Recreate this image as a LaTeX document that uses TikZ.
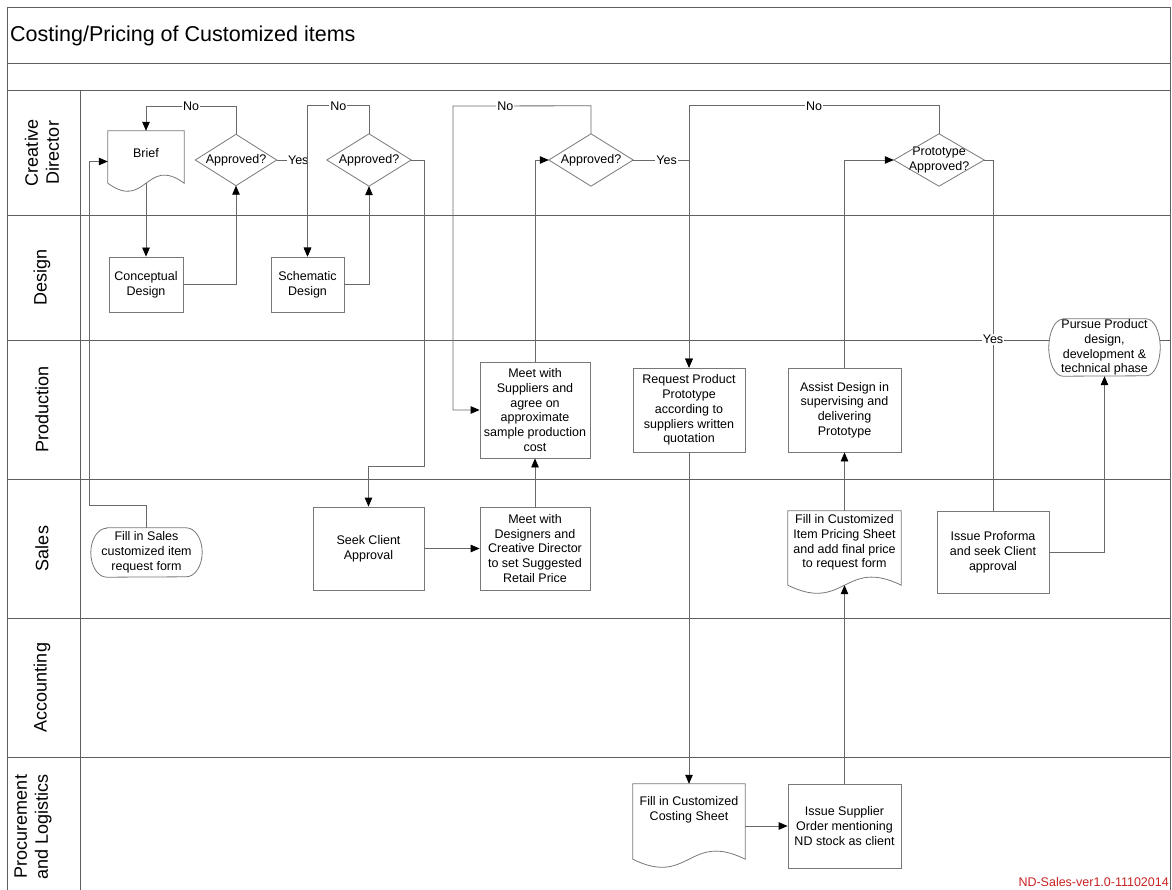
\documentclass[tikz,border=0pt]{standalone}
\usepackage{fontspec}
\setmainfont{Liberation Sans}
\usetikzlibrary{arrows.meta,calc}
\definecolor{ndred}{RGB}{200,35,35}
\definecolor{laneline}{RGB}{95,95,95}
\definecolor{shapeline}{RGB}{120,120,120}
\definecolor{connline}{RGB}{105,105,105}
\newcommand\nodefont{\fontsize{12.5}{14.8}\selectfont}
\newcommand\lanefont{\fontsize{18}{21}\selectfont}
\tikzset{
  lane/.style={draw=laneline, line width=0.9pt},
  conn/.style={draw=connline, line width=0.8pt},
  arr/.style={conn, -{Triangle[length=9pt,width=7.5pt,color=black]}},
  box/.style={draw=shapeline, fill=white, line width=0.8pt, align=center, font=\nodefont, inner sep=0pt},
  ghost/.style={inner sep=0pt, draw=none, align=center, font=\nodefont},
  txt/.style={align=center, font=\nodefont, inner sep=0pt},
  lbl/.style={fill=white, font=\nodefont, inner sep=1pt},
  lanelabel/.style={rotate=90, align=center, font=\lanefont, inner sep=0pt},
  shp/.style={draw=shapeline, line width=0.8pt}
}
\begin{document}
\begin{tikzpicture}[x=1pt,y=-1pt]
\useasboundingbox (0,0) rectangle (1172,890);
% frame and lanes
\draw[lane] (7,890) -- (7,7) -- (1170,7) -- (1170,890);
\foreach \yy in {63,90,215,340,479,618,757} {\draw[lane] (7,\yy) -- (1170,\yy);}
\draw[lane] (80,90) -- (80,890);
\node[anchor=west, inner sep=0pt, font=\fontsize{21.5}{24}\selectfont] (title) at (10,36) {Costing/Pricing of Customized items};
\node[lanelabel] (lcd) at (42,152.5) {Creative\\Director};
\node[lanelabel] (ldes) at (42,277.5) {Design};
\node[lanelabel] (lprod) at (42,409.5) {Production};
\node[lanelabel] (lsales) at (42,548.5) {Sales};
\node[lanelabel] (lacc) at (42,687.5) {Accounting};
\node[lanelabel] (lproc) at (33,826.5) {Procurement\\and Logistics};
\node[anchor=east, inner sep=0pt, text=ndred, font=\nodefont] (ver) at (1169,882) {ND-Sales-ver1.0-11102014};

% diamonds
\node[ghost, minimum width=81pt, minimum height=51pt] (d1) at (236,160) {Approved?};
\node[ghost, minimum width=84pt, minimum height=52pt] (d2) at (369,160) {Approved?};
\node[ghost, minimum width=84pt, minimum height=52pt] (d3) at (591,160) {Approved?};
\node[ghost, minimum width=90pt, minimum height=52pt] (d4) at (939,160) {Prototype\\Approved?};
\foreach \d in {d1,d2,d3,d4} {\draw[shp] (\d.north) -- (\d.east) -- (\d.south) -- (\d.west) -- cycle;}

% documents
\node[ghost, minimum width=76pt, minimum height=61pt] (brief) at (146,161.5) {};
\node[ghost, minimum width=113pt, minimum height=83pt] (pricing) at (844.5,552.5) {};
\node[ghost, minimum width=112pt, minimum height=84pt] (cost) at (689,826) {};
\foreach \d in {brief,pricing,cost} {
  \draw[shp, fill=white] (\d.north west) -- (\d.north east) -- ($(\d.south east)+(0,-9)$)
    .. controls ($(\d.south)+(0,-37)$) and ($(\d.south)+(0,19)$) .. ($(\d.south west)+(0,-9)$) -- cycle;}
\node[txt] (brieft) at (146,153) {Brief};
\node[txt] (pricingt) at (844.5,542.5) {Fill in Customized\\Item Pricing Sheet\\and add final price\\to request form};
\node[txt] (costt) at (689,809.5) {Fill in Customized\\Costing Sheet};

% terminators
\node[ghost, minimum width=111pt, minimum height=49pt] (fill) at (146.5,552.5) {};
\draw[shp, fill=white] ($(fill.north west)+(16,0)$) -- ($(fill.north east)+(-16,0)$)
  arc[start angle=90, end angle=-90, x radius=16pt, y radius=24.5pt]
  -- ($(fill.south west)+(16,0)$)
  arc[start angle=270, end angle=90, x radius=16pt, y radius=24.5pt] -- cycle;
\node[txt] (fillt) at (fill) {Fill in Sales\\customized item\\request form};
\node[ghost, minimum width=111pt, minimum height=57pt] (pursue) at (1104.5,347.5) {};
\draw[shp, fill=white] ($(pursue.north west)+(14,0)$) -- ($(pursue.north east)+(-14,0)$)
  arc[start angle=90, end angle=-90, x radius=14pt, y radius=28.5pt]
  -- ($(pursue.south west)+(14,0)$)
  arc[start angle=270, end angle=90, x radius=14pt, y radius=28.5pt] -- cycle;
\node[txt] (pursuet) at (pursue) {Pursue Product\\design,\\development \&\\technical phase};

% boxes
\node[box, minimum width=74pt, minimum height=55pt] (concept) at (146,284.5) {Conceptual\\Design};
\node[box, minimum width=73pt, minimum height=55pt] (schem) at (307.5,284.5) {Schematic\\Design};
\node[box, minimum width=111pt, minimum height=83pt] (seek) at (368.5,548.5) {Seek Client\\Approval};
\node[box, minimum width=110pt, minimum height=83pt] (meetdes) at (535,548.5) {Meet with\\Designers and\\Creative Director\\to set Suggested\\Retail Price};
\node[box, minimum width=110pt, minimum height=96pt] (meetsup) at (535,410) {Meet with\\Suppliers and\\agree on\\approximate\\sample production\\cost};
\node[box, minimum width=112pt, minimum height=84pt] (req) at (689,410) {Request Product\\Prototype\\according to\\suppliers written\\quotation};
\node[box, minimum width=113pt, minimum height=84pt] (assist) at (844.5,410) {Assist Design in\\supervising and\\delivering\\Prototype};
\node[box, minimum width=112pt, minimum height=82pt] (proforma) at (993,552) {Issue Proforma\\and seek Client\\approval};
\node[box, minimum width=113pt, minimum height=84pt] (supp) at (844.5,826) {Issue Supplier\\Order mentioning\\ND stock as client};

% connectors
\coordinate (c1) at (89,505);
\draw[arr] (fill.north) |- (c1) |- (brief.west);
\draw[arr] ($(brief.south)+(0,-9)$) -- (concept.north);
\draw[arr] (concept.east) -| (d1.south);
\draw[arr] (d1.north) -- ++(0,-28) -| (brief.north) node[lbl, pos=0.25] (no1) {No};
\draw[arr] (d1.east) -| (schem.north) node[lbl, pos=0.35] (yes1) {Yes};
\draw[arr] (d2.north) -- ++(0,-28) -| (schem.north) node[lbl, pos=0.25] (no2) {No};
\draw[arr] (schem.east) -| (d2.south);
\coordinate (c2) at (424,466);
\draw[arr] (d2.east) -| (c2) -| (seek.north);
\draw[arr] (seek.east) -- (meetdes.west);
\draw[arr] (meetdes.north) -- (meetsup.south);
\draw[arr] (meetsup.north) |- (d3.west);
\coordinate (c3) at (453,106);
\draw[arr] (d3.north) -- ++(0,-28) -- (c3) node[lbl, pos=0.62] (no3) {No} |- (meetsup.west);
\draw[arr] (d3.east) -| (req.north) node[lbl, pos=0.3] (yes3) {Yes};
\draw[arr] (d4.north) -- ++(0,-28) -| (req.north) node[lbl, pos=0.25] (no4) {No};
\draw[arr] (req.south) -- (cost.north);
\draw[arr] (cost.east) -- (supp.west);
\draw[arr] (supp.north) -- ($(pricing.south)+(0,-9)$);
\draw[arr] (pricing.north) -- (assist.south);
\draw[arr] (assist.north) |- (d4.west);
\draw[conn] (d4.east) -| (proforma.north) node[lbl, pos=0.756] (yes4) {Yes};
\draw[arr] (proforma.east) -| (pursue.south);
\end{tikzpicture}
\end{document}
